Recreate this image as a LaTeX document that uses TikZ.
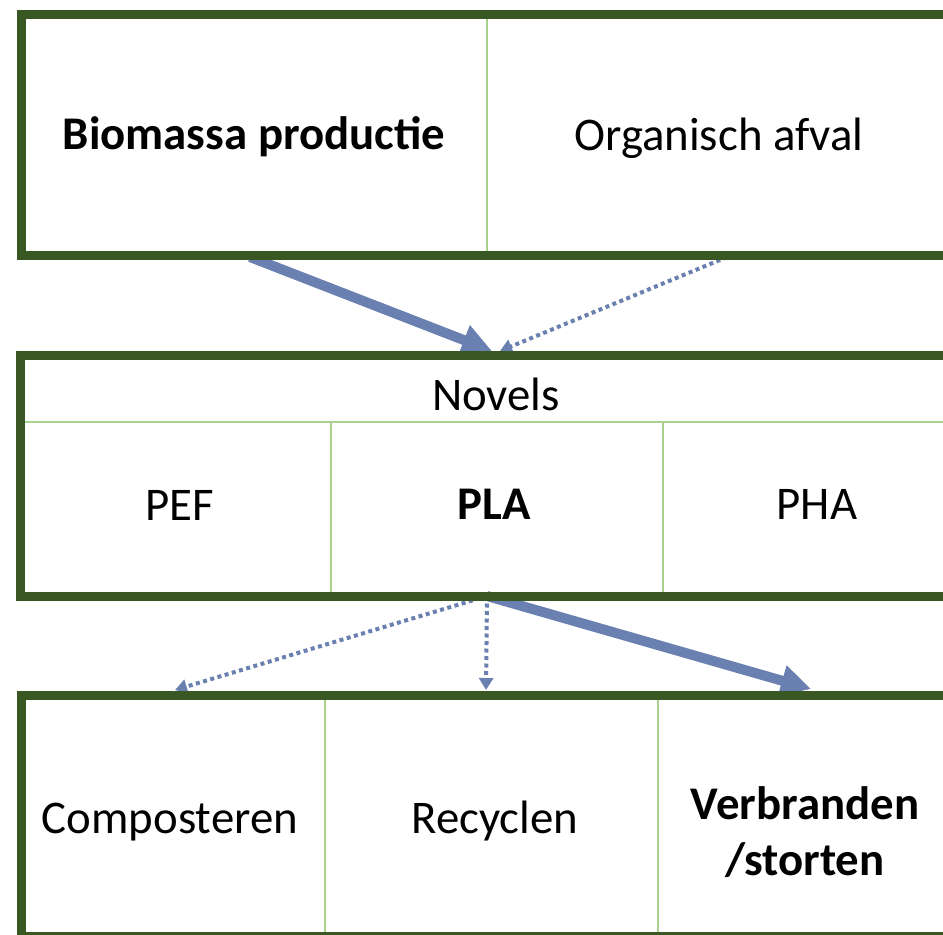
\documentclass[tikz,border=0pt]{standalone}
\usepackage{fontspec}
\setmainfont{Carlito}
\usetikzlibrary{arrows.meta}
\definecolor{frame}{RGB}{56,87,35}
\definecolor{grid}{RGB}{169,209,142}
\definecolor{flow}{RGB}{106,128,176}

\begin{document}
\begin{tikzpicture}[x=1bp,y=-1bp,
  box/.style={draw=frame, line width=9bp, rectangle, inner sep=0pt, outer sep=0pt},
  divider/.style={draw=grid, line width=2bp},
  label/.style={font=\fontsize{47}{56}\selectfont, anchor=base, inner sep=0pt},
  major/.style={draw=flow, line width=10bp, -{Triangle[length=30bp,width=30bp]}},
  minor/.style={draw=flow, line width=4bp, dash pattern=on 4bp off 3.5bp,
                -{Triangle[length=12bp,width=14bp]}}]
\useasboundingbox (0,0) rectangle (943,935);
\clip (0,0) rectangle (943,935);

% table grid lines
\draw[divider] (487,15) -- (487,255);
\draw[divider] (21,422.3) -- (965,422.3);
\draw[divider] (331,422) -- (331,596);
\draw[divider] (663,422) -- (663,596);
\draw[divider] (325,695) -- (325,936);
\draw[divider] (658,695) -- (658,936);

% arrow end points
\coordinate (s1) at (250,257);
\coordinate (e1) at (492,351);
\coordinate (s2) at (727,257);
\coordinate (e2) at (500,351);
\coordinate (s3) at (487,596);
\coordinate (e3) at (175,690);
\coordinate (e4) at (486,690);
\coordinate (e5) at (811,689);

% flows
\draw[major] (s1) -- (e1);
\draw[minor] (s2) -- (e2);
\draw[minor] (s3) -- (e3);
\draw[minor] (s3) -- (e4);
\draw[major] (s3) -- (e5);

% outer frames
\node[box, minimum width=943.5bp, minimum height=240.5bp] (top) at (493.25,135.25) {};
\node[box, minimum width=944bp, minimum height=241bp] (mid) at (493,475.5) {};
\node[box, minimum width=943bp, minimum height=241.5bp] (bot) at (493.5,815.75) {};

% cell texts
\node[label] (bio) at (254,149) {\textbf{Biomassa productie}};
\node[label] (afval) at (719,150) {Organisch afval};
\node[label] (novels) at (496,410) {Novels};
\node[label] (pef) at (180,520) {PEF};
\node[label] (pla) at (494,519) {\textbf{PLA}};
\node[label] (pha) at (817,519) {PHA};
\node[label] (comp) at (170,833) {Composteren};
\node[label] (recy) at (495,833) {Recyclen};
\node[label, anchor=center, align=center] (verb) at (805,832) {\textbf{Verbranden}\\\textbf{/storten}};
\end{tikzpicture}
\end{document}
